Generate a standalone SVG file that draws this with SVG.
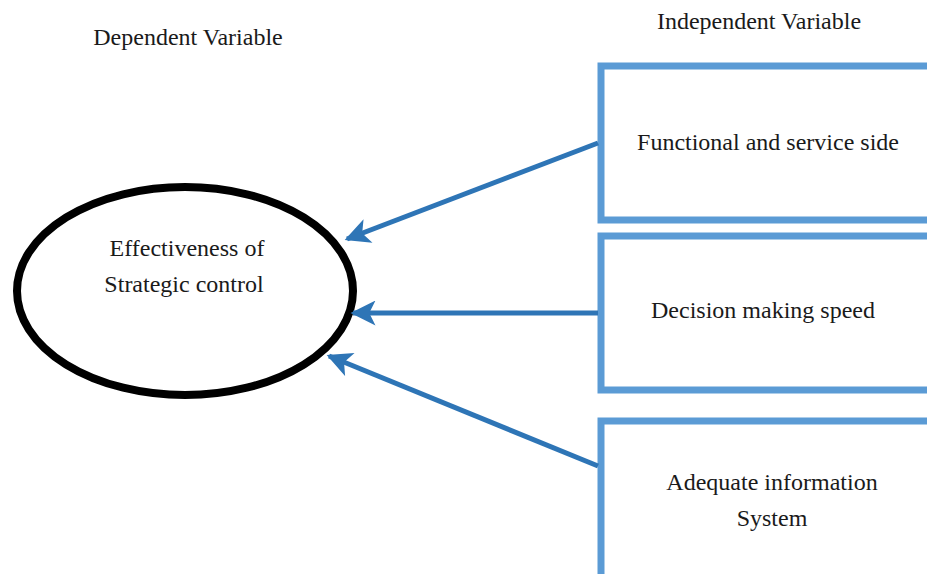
<svg xmlns="http://www.w3.org/2000/svg" width="927" height="574" viewBox="0 0 927 574">
<defs>
<style>
.t{font-family:"Liberation Serif","Times New Roman",serif;font-size:24px;fill:#1a1a1a;text-anchor:middle}
.box{fill:#fff;stroke:#5B9BD5;stroke-width:7}
.con{stroke:#2E75B6;stroke-width:5;fill:none;marker-end:url(#ah)}
</style>
<marker id="ah" viewBox="0 0 10 10" refX="9" refY="5" markerWidth="5.5" markerHeight="5" orient="auto" markerUnits="strokeWidth">
<path d="M0,0 L10,5 L0,10 L2.5,5 z" fill="#2E75B6"/>
</marker>
</defs>
<rect width="927" height="574" fill="#fff"/>
<text class="t" x="188" y="45">Dependent Variable</text>
<text class="t" x="759" y="29">Independent Variable</text>
<g id="dependent">
<ellipse cx="185" cy="291" rx="168" ry="104" fill="#fff" stroke="#000" stroke-width="8"/>
<text class="t" x="187" y="256">Effectiveness of</text>
<text class="t" x="184" y="292">Strategic control</text>
</g>
<g id="box1">
<rect class="box" x="601" y="66" width="340" height="154"/>
<text class="t" x="768" y="150">Functional and service side</text>
</g>
<g id="box2">
<rect class="box" x="601" y="236" width="340" height="154"/>
<text class="t" x="763" y="318">Decision making speed</text>
</g>
<g id="box3">
<rect class="box" x="601" y="421" width="340" height="170"/>
<text class="t" x="772" y="490">Adequate information</text>
<text class="t" x="772" y="526">System</text>
</g>
<g id="connectors">
<line class="con" x1="598" y1="143" x2="347" y2="239"/>
<line class="con" x1="598" y1="313" x2="353" y2="313"/>
<line class="con" x1="598" y1="466" x2="329" y2="356"/>
</g>
</svg>
